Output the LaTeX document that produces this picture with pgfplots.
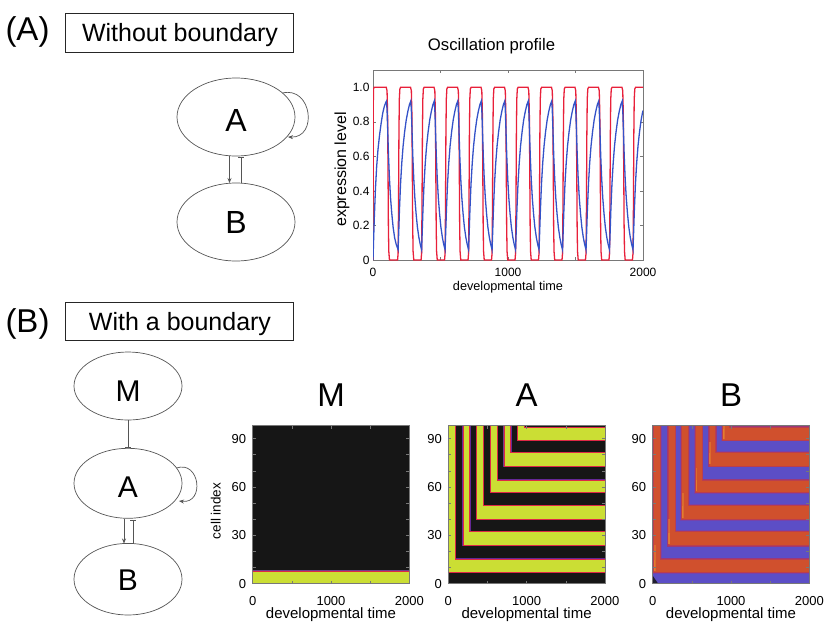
\documentclass[border=0pt]{standalone}
\usepackage{pgfplots}
\pgfplotsset{compat=1.18}
\usetikzlibrary{arrows.meta}
\usepackage{fontspec}
\setmainfont{Liberation Sans}
\definecolor{oscred}{RGB}{232,32,58}
\definecolor{oscblue}{RGB}{52,82,200}
\definecolor{hmblack}{RGB}{22,22,22}
\definecolor{hmyellow}{RGB}{203,222,52}
\definecolor{hmedge}{RGB}{222,40,70}
\definecolor{hmpurple}{RGB}{100,40,150}
\definecolor{bblue}{RGB}{92,78,198}
\definecolor{bred}{RGB}{208,80,45}
\definecolor{bmidA}{RGB}{120,66,170}
\definecolor{bmidB}{RGB}{155,56,120}
\definecolor{bmidC}{RGB}{185,62,80}
\definecolor{borange}{RGB}{240,150,45}
\definecolor{axgray}{RGB}{120,120,120}
\definecolor{diag}{RGB}{85,85,85}
\pgfplotsset{
  hm/.style={scale only axis, width=156.6pt, height=158pt, anchor=south west,
    xmin=0, xmax=2000, ymin=0, ymax=98, axis on top, clip=true,
    tick align=inside, major tick length=3pt,
    xtick={0,500,...,2000}, xticklabels={0,,1000,,2000},
    ytick={0,10,...,90}, yticklabels={0,,,30,,,60,,,90},
    tick style={axgray, line width=0.5pt},
    axis line style={axgray, line width=0.6pt},
    /pgf/number format/assume math mode=true,
    ticklabel style={font=\fontsize{13}{13}\selectfont},
    xticklabel style={anchor=base, yshift=-21.3pt},
    yticklabel style={xshift=-3pt},
    xlabel={developmental time},
    xlabel style={font=\fontsize{15}{15}\selectfont, at={(axis description cs:0.5,0)}, anchor=base, yshift=-34.3pt},
    title style={font=\fontsize{33}{33}\selectfont, at={(axis description cs:0.5,1)}, anchor=base, yshift=13.7pt},
  },
  Aedge/.style={draw=hmpurple, line width=1.6pt, fill=none},
  Afill/.style={draw=hmedge, line width=0.7pt, fill=hmyellow},
  Bs1/.style={draw=bmidA, line width=2.8pt, fill=none},
  Bs2/.style={draw=bmidB, line width=1.7pt, fill=none},
  Bs3/.style={draw=bmidC, line width=0.7pt, fill=bred},
  Bglow/.style={draw=none, fill=borange, fill opacity=0.4},
}
\begin{document}
\begin{tikzpicture}
\useasboundingbox (0pt,0pt) rectangle (830pt,-633pt);
% ---------------- diagrams and panel labels ----------------
\begin{scope}[x=1pt,y=-1pt]
  \node[anchor=base, font=\fontsize{33}{33}\selectfont] at (27.5,40.5) {(A)};
  \draw[line width=1.3pt, black!85] (65.7,13.3) rectangle (293.3,52.3);
  \node[anchor=base, font=\fontsize{25}{25}\selectfont] at (180,41) {Without boundary};
  \draw[diag, line width=0.7pt] (236,117) ellipse [x radius=59, y radius=39];
  \draw[diag, line width=0.7pt] (236,222) ellipse [x radius=59, y radius=39];
  \node[anchor=base, font=\fontsize{32}{32}\selectfont] at (236,131.7) {A};
  \node[anchor=base, font=\fontsize{32}{32}\selectfont] at (236,233.5) {B};
  \draw[diag, line width=0.7pt, -{Stealth[length=5pt,width=4pt]}] (282.5,93) .. controls (312,86) and (318,138) .. (288,137);
  \draw[diag, line width=0.7pt, -{Stealth[length=5pt,width=4pt]}] (229.5,156) -- (229.5,183);
  \draw[diag, line width=0.7pt] (241,183) -- (241,157.5);
  \draw[diag, line width=1.6pt] (238,157.5) -- (244,157.5);

  \node[anchor=base, font=\fontsize{33}{33}\selectfont] at (27.5,332.5) {(B)};
  \draw[line width=1.3pt, black!85] (65.7,302.5) rectangle (293.3,340.5);
  \node[anchor=base, font=\fontsize{25}{25}\selectfont] at (180,330.5) {With a boundary};
  \draw[diag, line width=0.7pt] (128,386) ellipse [x radius=54, y radius=34];
  \draw[diag, line width=0.7pt] (128,483.3) ellipse [x radius=54, y radius=35];
  \draw[diag, line width=0.7pt] (128,579.2) ellipse [x radius=54, y radius=35.8];
  \node[anchor=base, font=\fontsize{30}{30}\selectfont] at (128,401.7) {M};
  \node[anchor=base, font=\fontsize{30}{30}\selectfont] at (128,497) {A};
  \node[anchor=base, font=\fontsize{30}{30}\selectfont] at (128,590) {B};
  \draw[diag, line width=0.7pt] (128.3,420) -- (128.3,447.5);
  \draw[diag, line width=1.6pt] (125.3,447.5) -- (131.3,447.5);
  \draw[diag, line width=0.7pt, -{Stealth[length=5pt,width=4pt]}] (124,518.5) -- (124,543.5);
  \draw[diag, line width=0.7pt] (133.3,543.5) -- (133.3,520.5);
  \draw[diag, line width=1.6pt] (130.3,520.5) -- (136.3,520.5);
  \draw[diag, line width=0.7pt, -{Stealth[length=5pt,width=4pt]}] (176.5,468) .. controls (200,460) and (205,504) .. (179,501);
  % axis labels on the y side
  \node[rotate=90, anchor=base, font=\fontsize{16}{16}\selectfont] at (346,169.5) {expression level};
  \node[rotate=90, anchor=base, font=\fontsize{13.5}{13.5}\selectfont] at (220.5,511) {cell index};
\end{scope}

% ---------------- oscillation profile ----------------
\begin{axis}[at={(373pt,-260pt)}, anchor=south west, scale only axis,
  width=270pt, height=190pt, xmin=0, xmax=2000, ymin=0, ymax=1.1,
  no markers, tick align=inside, major tick length=3pt,
  xtick={0,500,...,2000}, xticklabels={0,,1000,,2000},
  ytick={0,0.2,0.4,0.6,0.8,1.0}, yticklabels={0,0.2,0.4,0.6,0.8,1.0},
  tick style={axgray, line width=0.5pt},
  axis line style={axgray, line width=0.6pt},
  /pgf/number format/assume math mode=true,
  ticklabel style={font=\fontsize{12}{12}\selectfont},
  xticklabel style={anchor=base, yshift=-16pt},
  xlabel={developmental time},
  xlabel style={font=\fontsize{12.7}{12.7}\selectfont, at={(axis description cs:0.5,0)}, anchor=base, yshift=-30pt},
  title={Oscillation profile},
  title style={font=\fontsize{16.7}{16.7}\selectfont, at={(axis description cs:0.439,1)}, anchor=base, yshift=13.3pt},
]
\addplot[oscred, line width=1.3pt] coordinates {
(0,0)(1,0.5)(2,0.9)(4,0.99)(8,1)(98,1)(104,0.98)(108,0.85)(111,0.55)(114,0.2)(117,0.05)(122,0)
(182,0)(186,0.04)(189,0.3)(192,0.72)(195,0.93)(199,0.99)(205,1)(278,1)(284,0.98)(288,0.85)(291,0.55)(294,0.2)(297,0.05)(302,0)
(356,0)(360,0.04)(363,0.3)(366,0.72)(369,0.93)(373,0.99)(379,1)(452,1)(458,0.98)(462,0.85)(465,0.55)(468,0.2)(471,0.05)(476,0)
(530,0)(534,0.04)(537,0.3)(540,0.72)(543,0.93)(547,0.99)(553,1)(626,1)(632,0.98)(636,0.85)(639,0.55)(642,0.2)(645,0.05)(650,0)
(704,0)(708,0.04)(711,0.3)(714,0.72)(717,0.93)(721,0.99)(727,1)(800,1)(806,0.98)(810,0.85)(813,0.55)(816,0.2)(819,0.05)(824,0)
(878,0)(882,0.04)(885,0.3)(888,0.72)(891,0.93)(895,0.99)(901,1)(974,1)(980,0.98)(984,0.85)(987,0.55)(990,0.2)(993,0.05)(998,0)
(1052,0)(1056,0.04)(1059,0.3)(1062,0.72)(1065,0.93)(1069,0.99)(1075,1)(1148,1)(1154,0.98)(1158,0.85)(1161,0.55)(1164,0.2)(1167,0.05)(1172,0)
(1226,0)(1230,0.04)(1233,0.3)(1236,0.72)(1239,0.93)(1243,0.99)(1249,1)(1322,1)(1328,0.98)(1332,0.85)(1335,0.55)(1338,0.2)(1341,0.05)(1346,0)
(1400,0)(1404,0.04)(1407,0.3)(1410,0.72)(1413,0.93)(1417,0.99)(1423,1)(1496,1)(1502,0.98)(1506,0.85)(1509,0.55)(1512,0.2)(1515,0.05)(1520,0)
(1574,0)(1578,0.04)(1581,0.3)(1584,0.72)(1587,0.93)(1591,0.99)(1597,1)(1670,1)(1676,0.98)(1680,0.85)(1683,0.55)(1686,0.2)(1689,0.05)(1694,0)
(1748,0)(1752,0.04)(1755,0.3)(1758,0.72)(1761,0.93)(1765,0.99)(1771,1)(1844,1)(1850,0.98)(1854,0.85)(1857,0.55)(1860,0.2)(1863,0.05)(1868,0)
(1922,0)(1926,0.04)(1929,0.3)(1932,0.72)(1935,0.93)(1939,0.99)(1945,1)(2000,1)
};
\addplot[oscblue, line width=1.3pt] coordinates {
(0,0)(5,0.13)(10,0.25)(18,0.41)(27,0.54)(37,0.64)(48,0.72)(60,0.79)(72,0.85)(84,0.89)(96,0.915)(100,0.92)(104,0.87)(109,0.75)(115,0.6)(122,0.47)(130,0.36)(139,0.27)(149,0.19)(160,0.13)(172,0.09)
(186,0.06)(191,0.17)(196,0.29)(204,0.44)(213,0.56)(223,0.66)(234,0.74)(246,0.81)(258,0.86)(270,0.90)(280,0.92)(284,0.87)(289,0.75)(295,0.60)(302,0.47)(310,0.36)(319,0.27)(329,0.19)(340,0.13)(350,0.09)
(360,0.06)(365,0.17)(370,0.29)(378,0.44)(387,0.56)(397,0.66)(408,0.74)(420,0.81)(432,0.86)(444,0.90)(454,0.92)(458,0.87)(463,0.75)(469,0.60)(476,0.47)(484,0.36)(493,0.27)(503,0.19)(514,0.13)(524,0.09)
(534,0.06)(539,0.17)(544,0.29)(552,0.44)(561,0.56)(571,0.66)(582,0.74)(594,0.81)(606,0.86)(618,0.90)(628,0.92)(632,0.87)(637,0.75)(643,0.60)(650,0.47)(658,0.36)(667,0.27)(677,0.19)(688,0.13)(698,0.09)
(708,0.06)(713,0.17)(718,0.29)(726,0.44)(735,0.56)(745,0.66)(756,0.74)(768,0.81)(780,0.86)(792,0.90)(802,0.92)(806,0.87)(811,0.75)(817,0.60)(824,0.47)(832,0.36)(841,0.27)(851,0.19)(862,0.13)(872,0.09)
(882,0.06)(887,0.17)(892,0.29)(900,0.44)(909,0.56)(919,0.66)(930,0.74)(942,0.81)(954,0.86)(966,0.90)(976,0.92)(980,0.87)(985,0.75)(991,0.60)(998,0.47)(1006,0.36)(1015,0.27)(1025,0.19)(1036,0.13)(1046,0.09)
(1056,0.06)(1061,0.17)(1066,0.29)(1074,0.44)(1083,0.56)(1093,0.66)(1104,0.74)(1116,0.81)(1128,0.86)(1140,0.90)(1150,0.92)(1154,0.87)(1159,0.75)(1165,0.60)(1172,0.47)(1180,0.36)(1189,0.27)(1199,0.19)(1210,0.13)(1220,0.09)
(1230,0.06)(1235,0.17)(1240,0.29)(1248,0.44)(1257,0.56)(1267,0.66)(1278,0.74)(1290,0.81)(1302,0.86)(1314,0.90)(1324,0.92)(1328,0.87)(1333,0.75)(1339,0.60)(1346,0.47)(1354,0.36)(1363,0.27)(1373,0.19)(1384,0.13)(1394,0.09)
(1404,0.06)(1409,0.17)(1414,0.29)(1422,0.44)(1431,0.56)(1441,0.66)(1452,0.74)(1464,0.81)(1476,0.86)(1488,0.90)(1498,0.92)(1502,0.87)(1507,0.75)(1513,0.60)(1520,0.47)(1528,0.36)(1537,0.27)(1547,0.19)(1558,0.13)(1568,0.09)
(1578,0.06)(1583,0.17)(1588,0.29)(1596,0.44)(1605,0.56)(1615,0.66)(1626,0.74)(1638,0.81)(1650,0.86)(1662,0.90)(1672,0.92)(1676,0.87)(1681,0.75)(1687,0.60)(1694,0.47)(1702,0.36)(1711,0.27)(1721,0.19)(1732,0.13)(1742,0.09)
(1752,0.06)(1757,0.17)(1762,0.29)(1770,0.44)(1779,0.56)(1789,0.66)(1800,0.74)(1812,0.81)(1824,0.86)(1836,0.90)(1846,0.92)(1850,0.87)(1855,0.75)(1861,0.60)(1868,0.47)(1876,0.36)(1885,0.27)(1895,0.19)(1906,0.13)(1916,0.09)
(1926,0.06)(1931,0.17)(1936,0.29)(1944,0.44)(1953,0.56)(1963,0.66)(1974,0.74)(1986,0.81)(1998,0.86)(2000,0.865)
};
\end{axis}

% ---------------- heatmap M ----------------
\begin{axis}[hm, at={(252.7pt,-583.7pt)}, title={M},
  axis background/.style={fill=hmblack}]
\addplot[Aedge] coordinates {(-100,-10)(2100,-10)(2100,7.9)(-100,7.9)(-100,-10)};
\addplot[Afill] coordinates {(-100,-10)(2100,-10)(2100,7.9)(-100,7.9)(-100,-10)};
\end{axis}

% ---------------- heatmap A ----------------
\begin{axis}[hm, at={(448.3pt,-583.7pt)}, title={A},
  axis background/.style={fill=hmblack}]
\addplot[Aedge] coordinates {(6,110)(6,7.0)(2100,7.0)(2100,15.3)(88,15.3)(88,110)(6,110)};
\addplot[Afill] coordinates {(6,110)(6,7.0)(2100,7.0)(2100,15.3)(88,15.3)(88,110)(6,110)};
\addplot[Aedge] coordinates {(189,110)(189,23.6)(2100,23.6)(2100,32.3)(275,32.3)(275,110)(189,110)};
\addplot[Afill] coordinates {(189,110)(189,23.6)(2100,23.6)(2100,32.3)(275,32.3)(275,110)(189,110)};
\addplot[Aedge] coordinates {(361,110)(361,39.9)(2100,39.9)(2100,48.4)(449,48.4)(449,110)(361,110)};
\addplot[Afill] coordinates {(361,110)(361,39.9)(2100,39.9)(2100,48.4)(449,48.4)(449,110)(361,110)};
\addplot[Aedge] coordinates {(537,110)(537,56.5)(2100,56.5)(2100,64.3)(621,64.3)(621,110)(537,110)};
\addplot[Afill] coordinates {(537,110)(537,56.5)(2100,56.5)(2100,64.3)(621,64.3)(621,110)(537,110)};
\addplot[Aedge] coordinates {(711,110)(711,73.0)(2100,73.0)(2100,81.3)(797,81.3)(797,110)(711,110)};
\addplot[Afill] coordinates {(711,110)(711,73.0)(2100,73.0)(2100,81.3)(797,81.3)(797,110)(711,110)};
\addplot[Aedge] coordinates {(883,110)(883,89.2)(2100,89.2)(2100,97.0)(965,97.0)(965,110)(883,110)};
\addplot[Afill] coordinates {(883,110)(883,89.2)(2100,89.2)(2100,97.0)(965,97.0)(965,110)(883,110)};
\end{axis}

% ---------------- heatmap B ----------------
\begin{axis}[hm, at={(652.7pt,-583.7pt)}, title={B},
  axis background/.style={fill=bblue}]
\addplot[Bs1] coordinates {(14,110)(14,7.0)(2100,7.0)(2100,15.3)(96,15.3)(96,110)(14,110)};
\addplot[Bs1] coordinates {(197,110)(197,23.6)(2100,23.6)(2100,32.3)(283,32.3)(283,110)(197,110)};
\addplot[Bs1] coordinates {(369,110)(369,39.9)(2100,39.9)(2100,48.4)(457,48.4)(457,110)(369,110)};
\addplot[Bs1] coordinates {(545,110)(545,56.5)(2100,56.5)(2100,64.3)(629,64.3)(629,110)(545,110)};
\addplot[Bs1] coordinates {(719,110)(719,73.0)(2100,73.0)(2100,81.3)(805,81.3)(805,110)(719,110)};
\addplot[Bs1] coordinates {(891,110)(891,89.2)(2100,89.2)(2100,97.0)(973,97.0)(973,110)(891,110)};
\addplot[Bs2] coordinates {(14,110)(14,7.0)(2100,7.0)(2100,15.3)(96,15.3)(96,110)(14,110)};
\addplot[Bs2] coordinates {(197,110)(197,23.6)(2100,23.6)(2100,32.3)(283,32.3)(283,110)(197,110)};
\addplot[Bs2] coordinates {(369,110)(369,39.9)(2100,39.9)(2100,48.4)(457,48.4)(457,110)(369,110)};
\addplot[Bs2] coordinates {(545,110)(545,56.5)(2100,56.5)(2100,64.3)(629,64.3)(629,110)(545,110)};
\addplot[Bs2] coordinates {(719,110)(719,73.0)(2100,73.0)(2100,81.3)(805,81.3)(805,110)(719,110)};
\addplot[Bs2] coordinates {(891,110)(891,89.2)(2100,89.2)(2100,97.0)(973,97.0)(973,110)(891,110)};
\addplot[Bs3] coordinates {(14,110)(14,7.0)(2100,7.0)(2100,15.3)(96,15.3)(96,110)(14,110)};
\addplot[Bs3] coordinates {(197,110)(197,23.6)(2100,23.6)(2100,32.3)(283,32.3)(283,110)(197,110)};
\addplot[Bs3] coordinates {(369,110)(369,39.9)(2100,39.9)(2100,48.4)(457,48.4)(457,110)(369,110)};
\addplot[Bs3] coordinates {(545,110)(545,56.5)(2100,56.5)(2100,64.3)(629,64.3)(629,110)(545,110)};
\addplot[Bs3] coordinates {(719,110)(719,73.0)(2100,73.0)(2100,81.3)(805,81.3)(805,110)(719,110)};
\addplot[Bs3] coordinates {(891,110)(891,89.2)(2100,89.2)(2100,97.0)(973,97.0)(973,110)(891,110)};
% orange glow near the corners
\addplot[Bglow] coordinates {(16,8)(40,8)(40,24)(16,24)};
\addplot[Bglow] coordinates {(16,8)(32,8)(32,15)(16,15)};
\addplot[Bglow] coordinates {(199,24.5)(223,24.5)(223,40)(199,40)};
\addplot[Bglow] coordinates {(199,24.5)(215,24.5)(215,31.5)(199,31.5)};
\addplot[Bglow] coordinates {(371,41)(395,41)(395,56)(371,56)};
\addplot[Bglow] coordinates {(371,41)(387,41)(387,48)(371,48)};
\addplot[Bglow] coordinates {(547,57.5)(571,57.5)(571,72)(547,72)};
\addplot[Bglow] coordinates {(547,57.5)(563,57.5)(563,64.5)(547,64.5)};
\addplot[Bglow] coordinates {(721,74)(745,74)(745,88)(721,88)};
\addplot[Bglow] coordinates {(721,74)(737,74)(737,81)(721,81)};
\addplot[Bglow] coordinates {(893,90)(917,90)(917,98)(893,98)};
\addplot[Bglow] coordinates {(893,90)(909,90)(909,96)(893,96)};
% dark corner at the origin
\addplot[draw=none, fill=hmblack, fill opacity=0.85] coordinates {(0,0)(70,0)(0,5)};
\end{axis}
\end{tikzpicture}
\end{document}
